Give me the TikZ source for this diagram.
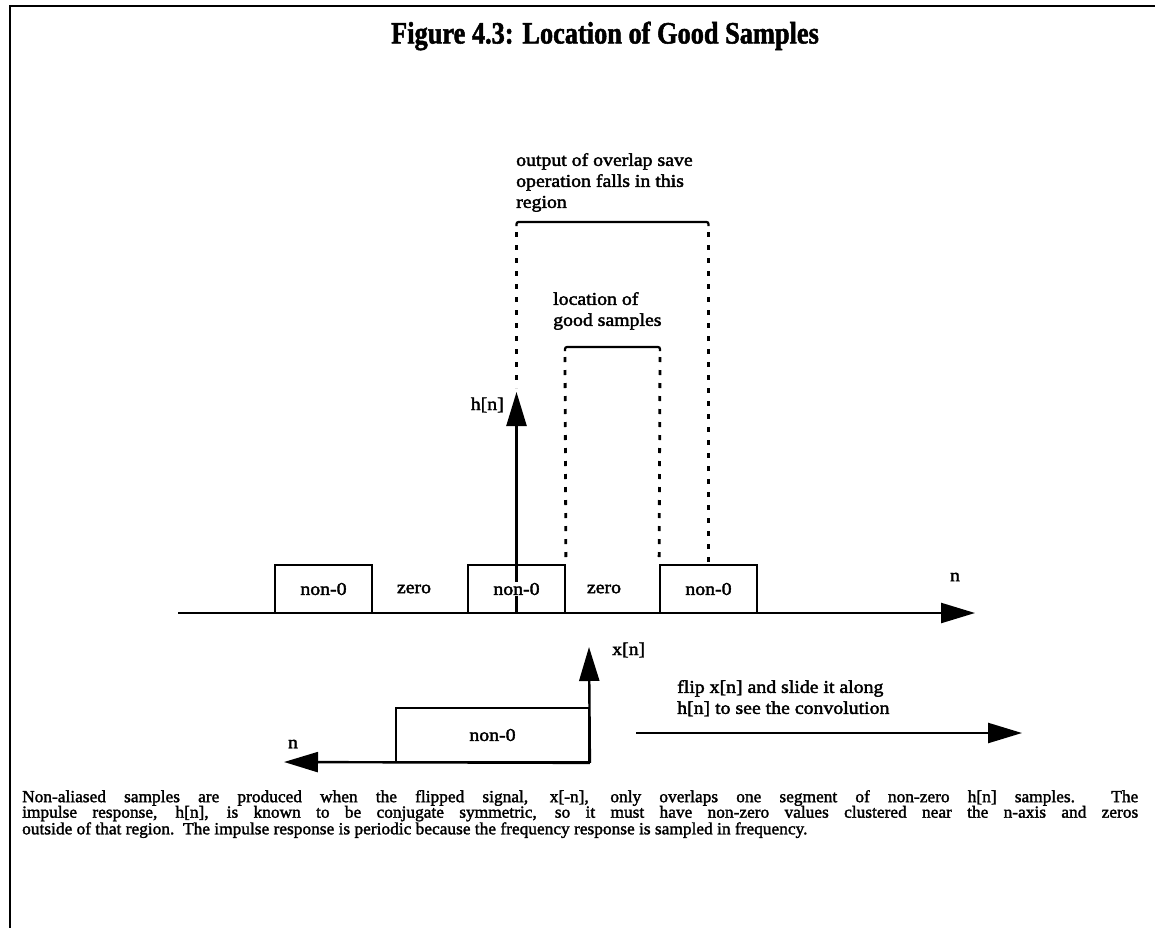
\documentclass[tikz,border=0pt]{standalone}
\usepackage{fontspec}
\setmainfont{Liberation Serif}[FakeStretch=1.12]
\newfontfamily\lblfont{Liberation Serif}[FakeStretch=1.1, FakeBold=2.2]
\newfontfamily\capfont{Liberation Serif}[FakeStretch=1.02, FakeBold=1.8]
\newfontfamily\headfont{Liberation Serif}[FakeStretch=0.85, FakeBold=1.6]
\usetikzlibrary{arrows.meta,calc}
\begin{document}
\begin{tikzpicture}[x=1pt,y=-1pt,
  rule/.style={line width=2.8pt},
  axisline/.style={line width=2.4pt},
  solidtip/.style={-{Triangle[length=34pt,width=20pt]}},
  segbox/.style={draw, line width=1.8pt, inner sep=0pt, minimum width=97pt, minimum height=48pt,
                 font=\lblfont\fontsize{18}{21}\selectfont},
  lbl/.style={font=\lblfont\fontsize{18}{21}\selectfont, inner sep=0pt},
  note/.style={lbl, align=left, anchor=north west},
  dotline/.style={line width=2.8pt, dash pattern=on 5pt off 8pt},
  bracket/.style={line width=2.2pt, rounded corners=2pt}
]
\useasboundingbox (0,0) rectangle (1155,928);

% frame on the top and left sides
\coordinate (fTL) at (10,6);
\coordinate (fTR) at (1155,6);
\coordinate (fBL) at (10,928);
\draw[rule] (fTR) -- (fTL) -- (fBL);

% title
\node[font=\headfont\bfseries\fontsize{31}{34}\selectfont, inner sep=0pt] (title) at (605,36)
  {Figure 4.3: Location of Good Samples};

% h[n] axis with its periodic non-zero segments
\coordinate (ax0) at (178,613);
\coordinate (ax1) at (975,613);
\draw[axisline, solidtip] (ax0) -- (ax1);
\node[lbl] (nlab) at (955,577) {n};

\node[segbox] (b1) at (323.5,589) {non-0};
\node[segbox] (b2) at (516.5,589) {};
\node[segbox] (b3) at (708.5,589) {non-0};
\node[lbl] (z1) at (414,589) {zero};
\node[lbl] (z2) at (604,589) {zero};

% h[n] arrow
\coordinate (htip) at (516.5,392);
\draw[axisline, solidtip] (b2.south) -- (htip);
\node[lbl, fill=white, inner sep=1pt] (b2t) at (b2.center) {non-0};
\node[lbl, anchor=east] (hlab) at (504,405) {h[n]};

% output region bracket
\coordinate (oL) at (516.5,222);
\coordinate (oR) at (708.5,222);
\draw[bracket] ($(oL)+(0,4)$) -- (oL) -- (oR) -- ($(oR)+(0,4)$);
\draw[dotline] ($(oL)+(0,10)$) -- ($(htip)+(0,-4)$);
\draw[dotline] ($(oR)+(0,10)$) -- (b3.north);
\node[note] (outnote) at (516,153) {output of overlap save\\operation falls in this\\region};

% good samples bracket
\coordinate (iL) at (565,347);
\coordinate (iR) at (660,347);
\draw[bracket] ($(iL)+(0,4)$) -- (iL) -- (iR) -- ($(iR)+(0,4)$);
\draw[dotline] ($(iL)+(0,10)$) -- (b2.north east);
\draw[dotline] ($(iR)+(0,10)$) -- (b3.north west);
\node[note] (goodnote) at (553,292) {location of\\good samples};

% flipped x[n]
\node[segbox, minimum width=193pt, minimum height=54pt] (b4) at (492.5,735) {non-0};
\coordinate (xtip) at (589,647);
\draw[axisline, solidtip] (b4.south east) -- (xtip);
\node[lbl, anchor=west] (xlab) at (612,650) {x[n]};
\coordinate (nb) at (284,762);
\draw[axisline, solidtip] (b4.south east) -- (nb);
\node[lbl] (nlab2) at (293,744) {n};

% sliding direction
\coordinate (ra0) at (636,733);
\coordinate (ra1) at (1022,733);
\draw[axisline, solidtip] (ra0) -- (ra1);
\node[note] (flipnote) at (677,680) {flip x[n] and slide it along\\h[n] to see the convolution};

% caption
\node[anchor=north west, inner sep=0pt, align=left, font=\capfont\fontsize{17}{15.5}\selectfont] (body) at (22,790)
{\hbox to 1116pt{Non-aliased samples are produced when the flipped signal, x[-n], only overlaps one segment of non-zero h[n] samples.\ \ The}\\
 \hbox to 1116pt{impulse response, h[n], is known to be conjugate symmetric, so it must have non-zero values clustered near the n-axis and zeros}\\
 outside of that region.\ \ The impulse response is periodic because the frequency response is sampled in frequency.};
\end{tikzpicture}
\end{document}
